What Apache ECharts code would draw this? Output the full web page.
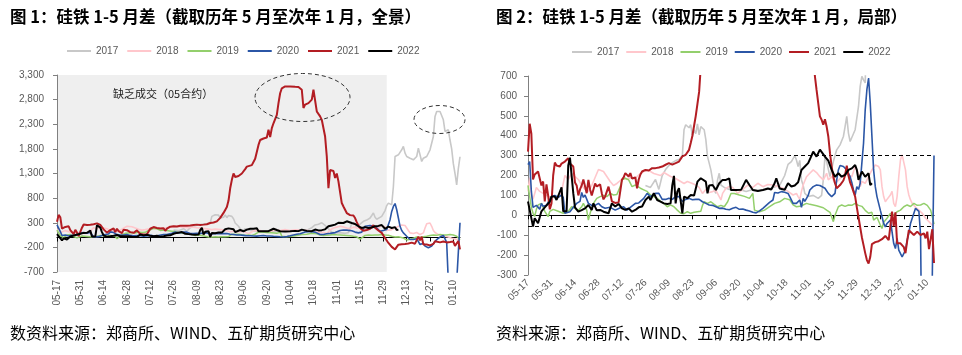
<!DOCTYPE html>
<html><head><meta charset="utf-8">
<script src="https://cdn.jsdelivr.net/npm/echarts@6/dist/echarts.min.js"></script>
<style>html,body{margin:0;padding:0;background:#fff}#c{width:962px;height:355px}</style>
</head><body><div id="c"></div>
<script>
// ---- categories: calendar days 05-17 .. 01-14 ----
const categories = [];
for (let t = Date.UTC(2021, 4, 17); t <= Date.UTC(2022, 0, 14); t += 86400000) {
  const d = new Date(t);
  categories.push(String(d.getUTCMonth() + 1).padStart(2, '0') + '-' + String(d.getUTCDate()).padStart(2, '0'));
}
const years = ['2017', '2018', '2019', '2020', '2021', '2022'];

// ---- series values [date, spread] ----
const s2017 = [["07-26",150],["07-29",140],["08-01",180],["08-03",130],["08-05",200],["08-07",230],["08-09",250],["08-11",265],["08-13",275],["08-15",280],["08-17",300],["08-18",430],["08-19",455],["08-20",463],["08-21",440],["08-22",455],["08-23",396],["08-24",430],["08-25",410],["08-26",460],["08-27",404],["08-28",446],["08-29",455],["08-30",430],["08-31",380],["09-01",295],["09-02",262],["09-03",228],["09-04",178],["09-05",127],["09-06",110],["09-07",178],["09-08",211],["09-09",152],["09-11",140],["09-14",130],["09-17",125],["09-20",130],["09-24",120],["09-28",130],["10-02",125],["10-06",130],["10-10",140],["10-14",150],["10-17",200],["10-19",256],["10-21",270],["10-23",300],["10-24",278],["10-25",245],["10-26",276],["10-27",178],["10-28",150],["10-29",110],["10-31",94],["11-03",100],["11-06",85],["11-08",100],["11-09",178],["11-10",295],["11-11",270],["11-12",278],["11-13",194],["11-15",270],["11-17",329],["11-19",354],["11-21",396],["11-22",446],["11-23",497],["11-24",413],["11-25",371],["11-26",379],["11-28",430],["11-30",547],["12-01",648],["12-02",698],["12-03",681],["12-04",665],["12-05",1036],["12-06",1645],["12-08",1679],["12-10",1781],["12-11",1849],["12-12",1713],["12-13",1645],["12-15",1611],["12-17",1578],["12-19",1645],["12-20",1815],["12-21",1849],["12-22",1544],["12-23",1611],["12-25",1645],["12-27",1781],["12-29",2052],["12-30",2459],["12-31",2560],["01-02",2560],["01-04",2391],["01-05",2154],["01-06",2120],["01-07",2188],["01-08",1980],["01-09",1800],["01-10",1500],["01-11",1300],["01-12",1070],["01-13",1400],["01-14",1640]];

const s2018 = [["05-17",120],["05-18",190],["05-19",100],["05-20",80],["05-22",140],["05-24",120],["05-26",110],["05-28",100],["05-30",90],["06-01",100],["06-03",85],["06-05",95],["06-06",120],["06-08",200],["06-10",180],["06-12",210],["06-14",195],["06-16",180],["06-18",150],["06-20",130],["06-22",120],["06-24",150],["06-26",190],["06-28",230],["06-29",240],["07-01",220],["07-03",195],["07-05",170],["07-07",150],["07-09",160],["07-11",175],["07-13",190],["07-15",180],["07-17",190],["07-19",185],["07-21",195],["07-23",210],["07-25",220],["07-27",228],["07-29",220],["07-31",210],["08-02",205],["08-04",200],["08-06",215],["08-08",205],["08-10",195],["08-12",190],["08-14",180],["08-16",170],["08-18",160],["08-20",170],["08-21",178],["08-23",160],["08-25",152],["08-27",140],["08-29",110],["08-31",130],["09-02",115],["09-04",119],["09-06",125],["09-09",77],["09-10",110],["09-12",136],["09-14",145],["09-16",140],["09-19",110],["09-22",130],["09-25",152],["09-28",140],["10-01",161],["10-04",144],["10-07",155],["10-10",152],["10-13",145],["10-16",136],["10-19",120],["10-22",102],["10-24",110],["10-25",94],["10-26",80],["10-27",120],["10-28",152],["10-30",194],["11-01",211],["11-03",228],["11-05",215],["11-07",194],["11-09",178],["11-11",211],["11-12",178],["11-14",194],["11-16",161],["11-18",175],["11-20",194],["11-22",211],["11-24",203],["11-26",194],["11-28",245],["11-30",211],["12-01",144],["12-02",170],["12-04",161],["12-06",194],["12-08",228],["12-10",253],["12-12",245],["12-13",228],["12-14",144],["12-15",94],["12-16",68],["12-17",80],["12-19",102],["12-20",120],["12-21",60],["12-22",43],["12-23",94],["12-24",194],["12-25",278],["12-26",304],["12-27",295],["12-28",228],["12-29",144],["12-30",102],["12-31",77],["01-01",60],["01-03",40],["01-05",26],["01-07",10],["01-09",-15],["01-11",-32],["01-13",-50],["01-14",-55]];

const s2019 = [["05-17",150],["05-19",40],["05-20",10],["05-21",-5],["05-22",30],["05-23",52],["05-25",60],["05-27",20],["05-29",-7],["05-30",20],["06-01",30],["06-04",20],["06-07",10],["06-10",20],["06-12",43],["06-14",35],["06-16",25],["06-18",43],["06-19",60],["06-21",26],["06-22",-24],["06-23",10],["06-25",60],["06-27",85],["06-29",94],["07-01",100],["07-03",94],["07-05",110],["07-07",102],["07-09",105],["07-11",144],["07-12",178],["07-14",186],["07-16",178],["07-18",144],["07-20",152],["07-23",136],["07-25",128],["07-27",120],["07-29",102],["07-31",94],["08-02",85],["08-04",70],["08-06",60],["08-08",43],["08-10",52],["08-12",43],["08-14",26],["08-16",10],["08-18",8],["08-20",18],["08-22",10],["08-24",15],["08-26",18],["08-28",20],["08-29",50],["08-30",68],["09-01",60],["09-03",68],["09-05",55],["09-07",43],["09-09",50],["09-11",43],["09-13",68],["09-15",110],["09-17",110],["09-20",102],["09-23",95],["09-26",85],["09-28",110],["09-29",26],["10-02",18],["10-05",26],["10-08",43],["10-11",60],["10-14",68],["10-17",85],["10-20",78],["10-22",52],["10-24",43],["10-26",45],["10-28",52],["10-30",60],["11-01",55],["11-03",52],["11-05",48],["11-07",43],["11-09",38],["11-11",26],["11-13",15],["11-15",-32],["11-16",0],["11-18",43],["11-20",52],["11-22",45],["11-24",52],["11-26",50],["11-28",60],["11-30",50],["12-02",45],["12-04",25],["12-06",10],["12-08",15],["12-09",-24],["12-11",-10],["12-13",-49],["12-14",-66],["12-15",-35],["12-17",-15],["12-19",10],["12-21",0],["12-23",18],["12-25",26],["12-27",43],["12-29",52],["12-31",44],["01-02",60],["01-04",50],["01-06",52],["01-08",60],["01-10",50],["01-12",26],["01-13",-7],["01-14",-45]];

const s2020 = [["05-17",255],["05-18",270],["05-19",120],["05-20",40],["05-22",50],["05-24",30],["05-25",60],["05-26",45],["05-28",50],["05-30",80],["05-31",94],["06-02",100],["06-04",90],["06-05",85],["06-06",102],["06-07",90],["06-08",10],["06-09",20],["06-11",18],["06-13",40],["06-15",60],["06-17",70],["06-18",115],["06-19",90],["06-20",102],["06-22",60],["06-23",52],["06-25",45],["06-28",60],["06-30",43],["07-02",35],["07-05",40],["07-08",26],["07-11",38],["07-13",43],["07-15",26],["07-17",40],["07-20",60],["07-22",62],["07-23",68],["07-25",85],["07-27",110],["07-29",94],["07-30",85],["08-01",110],["08-03",110],["08-05",80],["08-07",80],["08-09",86],["08-11",80],["08-13",94],["08-15",94],["08-17",70],["08-19",80],["08-21",85],["08-23",78],["08-25",80],["08-27",80],["08-29",68],["08-31",60],["09-02",52],["09-04",50],["09-06",43],["09-08",35],["09-10",36],["09-12",30],["09-14",28],["09-16",35],["09-18",40],["09-20",30],["09-22",32],["09-24",26],["09-26",22],["09-28",15],["09-29",10],["09-30",12],["10-02",22],["10-04",35],["10-06",50],["10-08",65],["10-10",77],["10-11",115],["10-13",112],["10-15",119],["10-17",116],["10-19",110],["10-20",94],["10-22",60],["10-23",50],["10-24",60],["10-26",77],["10-27",40],["10-28",85],["10-29",70],["10-31",100],["11-01",127],["11-03",144],["11-05",152],["11-07",150],["11-08",144],["11-10",136],["11-12",110],["11-14",94],["11-15",85],["11-16",110],["11-17",178],["11-18",228],["11-19",250],["11-21",245],["11-23",228],["11-24",211],["11-25",194],["11-26",165],["11-27",127],["11-28",102],["11-29",144],["11-30",130],["12-01",161],["12-02",262],["12-03",362],["12-04",530],["12-05",631],["12-06",690],["12-07",564],["12-08",396],["12-09",228],["12-10",144],["12-11",94],["12-12",60],["12-13",26],["12-14",-7],["12-15",-41],["12-16",-58],["12-17",-41],["12-19",-24],["12-20",-15],["12-21",-142],["12-22",-167],["12-23",-116],["12-24",-175],["12-26",-209],["12-27",-200],["12-28",-175],["12-29",-125],["12-30",-91],["12-31",-41],["01-02",10],["01-03",35],["01-04",43],["01-05",20],["01-06",-100],["01-07",-900],["01-08",-1000],["01-10",-950],["01-12",-900],["01-13",-900],["01-14",300]];

const s2021 = [["05-17",320],["05-18",460],["05-19",410],["05-20",180],["05-21",205],["05-22",215],["05-23",220],["05-24",228],["05-25",150],["05-26",170],["05-27",70],["05-28",155],["05-29",100],["05-30",30],["05-31",60],["06-01",200],["06-02",265],["06-03",250],["06-04",255],["06-05",245],["06-06",260],["06-07",250],["06-08",270],["06-09",275],["06-10",287],["06-11",260],["06-12",255],["06-13",245],["06-14",165],["06-15",150],["06-16",100],["06-17",130],["06-18",150],["06-19",180],["06-20",186],["06-21",111],["06-22",178],["06-23",130],["06-24",100],["06-25",90],["06-26",160],["06-27",145],["06-28",150],["06-29",155],["06-30",110],["07-01",80],["07-02",95],["07-03",85],["07-04",144],["07-05",110],["07-06",70],["07-07",68],["07-08",62],["07-09",60],["07-10",65],["07-11",70],["07-12",178],["07-13",191],["07-14",212],["07-15",220],["07-16",195],["07-17",212],["07-18",185],["07-19",195],["07-20",190],["07-21",136],["07-22",180],["07-23",205],["07-24",220],["07-26",228],["07-28",225],["07-30",237],["08-01",237],["08-03",240],["08-05",245],["08-07",254],["08-09",262],["08-11",255],["08-13",262],["08-15",270],["08-16",279],["08-17",296],["08-19",304],["08-21",329],["08-22",363],["08-23",400],["08-24",450],["08-25",500],["08-26",560],["08-27",620],["08-28",750],["08-29",1000],["08-30",1171],["08-31",1300],["09-01",1230],["09-03",1250],["09-05",1300],["09-07",1390],["09-08",1440],["09-09",1410],["09-11",1470],["09-13",1600],["09-15",1880],["09-16",1980],["09-18",2010],["09-20",2030],["09-21",2190],["09-22",2040],["09-23",2220],["09-24",2320],["09-26",2490],["09-27",2730],["09-28",2930],["09-29",3030],["10-01",3068],["10-04",3068],["10-07",3060],["10-09",3055],["10-11",3000],["10-12",2630],["10-13",2700],["10-15",2730],["10-17",2800],["10-18",3000],["10-19",3030],["10-20",2560],["10-21",2600],["10-22",2460],["10-23",2390],["10-25",2050],["10-26",1650],["10-27",1000],["10-28",1370],["10-29",1410],["10-30",1350],["10-31",1210],["11-01",1300],["11-02",1140],["11-04",700],["11-05",630],["11-06",564],["11-07",497],["11-08",480],["11-09",455],["11-10",483],["11-11",446],["11-12",396],["11-13",312],["11-14",245],["11-15",194],["11-16",161],["11-17",136],["11-18",130],["11-19",152],["11-21",175],["11-22",200],["11-23",250],["11-24",200],["11-25",165],["11-26",144],["11-27",150],["11-28",94],["11-29",40],["11-30",-10],["12-01",-60],["12-02",-110],["12-03",-150],["12-04",-190],["12-05",-225],["12-06",-242],["12-07",-210],["12-08",-145],["12-10",-135],["12-12",-130],["12-14",-120],["12-16",-104],["12-18",-125],["12-19",-120],["12-20",18],["12-21",-55],["12-22",15],["12-23",-141],["12-25",-141],["12-27",-160],["12-28",-190],["12-29",-130],["12-30",-75],["12-31",-82],["01-02",-99],["01-04",-82],["01-06",-99],["01-08",-91],["01-09",-116],["01-10",-82],["01-11",-170],["01-12",-175],["01-13",-70],["01-14",-240]];

const s2022 = [["05-17",69],["05-18",27],["05-19",18],["05-20",-57],["05-21",-15],["05-22",-24],["05-23",-40],["05-24",-49],["05-25",20],["05-26",26],["05-27",40],["05-28",44],["05-30",68],["05-31",94],["06-02",94],["06-03",77],["06-04",97],["06-06",140],["06-07",20],["06-09",20],["06-10",250],["06-11",290],["06-12",200],["06-13",110],["06-14",40],["06-16",18],["06-18",26],["06-20",35],["06-22",52],["06-24",27],["06-25",60],["06-27",25],["06-29",27],["07-01",18],["07-04",10],["07-06",60],["07-08",44],["07-10",57],["07-12",35],["07-14",27],["07-16",35],["07-18",18],["07-20",27],["07-22",40],["07-24",44],["07-26",77],["07-28",94],["07-29",77],["07-31",111],["08-02",77],["08-04",69],["08-06",60],["08-08",57],["08-10",60],["08-11",150],["08-12",198],["08-13",60],["08-14",119],["08-15",136],["08-16",128],["08-17",10],["08-18",94],["08-20",86],["08-22",102],["08-24",100],["08-26",169],["08-28",186],["08-29",194],["08-31",169],["09-01",110],["09-02",150],["09-04",152],["09-06",127],["09-08",161],["09-10",178],["09-12",178],["09-14",186],["09-15",127],["09-18",127],["09-21",128],["09-24",178],["09-26",152],["09-28",127],["10-01",122],["10-04",127],["10-07",135],["10-09",130],["10-11",161],["10-12",186],["10-14",135],["10-17",128],["10-19",161],["10-21",145],["10-23",150],["10-25",166],["10-27",228],["10-29",245],["10-31",262],["11-02",300],["11-03",320],["11-05",295],["11-07",330],["11-08",337],["11-10",295],["11-12",275],["11-14",228],["11-16",194],["11-18",211],["11-20",194],["11-22",203],["11-24",228],["11-26",236],["11-28",253],["11-29",228],["11-30",178],["12-02",220],["12-04",194],["12-06",211],["12-07",152],["12-08",161]];

const seriesData = [s2017, s2018, s2019, s2020, s2021, s2022];
const colors = ['#c8c8c8', '#ffc7cc', '#93cf6c', '#2b56a6', '#b31d23', '#000000'];
const widths = [1.6, 1.6, 1.5, 1.6, 2, 2];

// annotations
const shadeRange = ['05-17', '12-01'];
const bandLines = [300, -55];

const fmt = v => { const s = String(Math.abs(v)).replace(/\B(?=(\d{3})+(?!\d))/g, ','); return (v < 0 ? '-' : '') + s; };
const axisFont = { fontFamily: 'Liberation Sans', fontSize: 10, color: '#595959' };
const cjk = 'Noto Sans CJK SC';

function xAxes(gridIndex, rotate, margin) {
  return [
    { type: 'category', gridIndex, data: categories, boundaryGap: false, position: 'bottom',
      axisLine: { show: false, onZero: false }, axisTick: { show: false },
      axisLabel: Object.assign({ interval: 13, rotate, margin }, axisFont), splitLine: { show: false } },
    { type: 'category', gridIndex, data: categories, boundaryGap: false, position: 'bottom', z: 2,
      axisLine: { show: true, onZero: true, lineStyle: { color: '#000', width: 1.2 } },
      axisTick: { show: true, interval: 13, length: 4, lineStyle: { color: '#000' } },
      axisLabel: { show: false }, splitLine: { show: false } }
  ];
}

const series = [];
series.push({ name: 'shade', type: 'line', xAxisIndex: 0, yAxisIndex: 0, data: [], z: 1, silent: true,
  markArea: { silent: true, itemStyle: { color: '#efefef' },
    data: [[{ xAxis: shadeRange[0] }, { xAxis: shadeRange[1] }]] } });
series.push({ name: 'band', type: 'line', xAxisIndex: 2, yAxisIndex: 1, data: [], z: 10, silent: true,
  markLine: { silent: true, symbol: ['none', 'none'], label: { show: false },
    lineStyle: { type: [4, 3], color: '#000', width: 1.1 },
    data: bandLines.map(v => ({ yAxis: v })) } });
[0, 1].forEach(g => {
  years.forEach((y, i) => {
    series.push({ name: y, type: 'line', xAxisIndex: g * 2, yAxisIndex: g, data: seriesData[i],
      symbol: 'none', showSymbol: false, color: colors[i], z: 3 + i, clip: true,
      lineStyle: { color: colors[i], width: widths[i] } });
  });
});

const legendBase = { data: years, icon: 'rect', itemHeight: 2, selectedMode: false,
  textStyle: { fontFamily: 'Liberation Sans', fontSize: 10, color: '#595959' }, padding: 0 };

const option = {
  animation: false,
  backgroundColor: '#fff',
  title: [
    { text: '图 1：硅铁 1-5 月差（截取历年 5 月至次年 1 月，全景）', left: 10, top: 8, padding: 0,
      textStyle: { fontFamily: cjk, fontSize: 16.5, fontWeight: 'bold', color: '#000' } },
    { text: '图 2：硅铁 1-5 月差（截取历年 5 月至次年 1 月，局部）', left: 496, top: 8, padding: 0,
      textStyle: { fontFamily: cjk, fontSize: 16.5, fontWeight: 'bold', color: '#000' } }
  ],
  legend: [
    Object.assign({ left: 67, top: 46, itemWidth: 24, itemGap: 9 }, legendBase),
    Object.assign({ left: 572, top: 47, itemWidth: 20, itemGap: 7 }, legendBase)
  ],
  grid: [
    { left: 57, top: 75, width: 403, height: 197, outerBoundsMode: 'none' },
    { left: 528, top: 76, width: 406, height: 199, outerBoundsMode: 'none' }
  ],
  xAxis: [].concat(xAxes(0, 90, 8), xAxes(1, 45, 6)),
  yAxis: [
    { type: 'value', gridIndex: 0, min: -700, max: 3300, interval: 500, z: 2,
      axisLine: { show: true, lineStyle: { color: '#808080' } }, axisTick: { show: true, length: 4, lineStyle: { color: '#808080' } },
      splitLine: { show: false }, axisLabel: Object.assign({ formatter: fmt, margin: 13 }, axisFont) },
    { type: 'value', gridIndex: 1, min: -300, max: 700, interval: 100, z: 2,
      axisLine: { show: true, lineStyle: { color: '#808080' } }, axisTick: { show: true, length: 4, lineStyle: { color: '#808080' } },
      splitLine: { show: false }, axisLabel: Object.assign({ formatter: fmt, margin: 11 }, axisFont) }
  ],
  graphic: [
    { type: 'text', left: 113, top: 88, z: 20, style: { text: '缺乏成交（05合约）', fontFamily: cjk, fontSize: 11, fill: '#222' } },
    { type: 'ellipse', z: 20, shape: { cx: 302.5, cy: 97.5, rx: 47.5, ry: 24 }, style: { fill: 'none', stroke: '#333', lineWidth: 1, lineDash: [4, 3] } },
    { type: 'ellipse', z: 20, shape: { cx: 439.5, cy: 119.5, rx: 25.5, ry: 14 }, style: { fill: 'none', stroke: '#333', lineWidth: 1, lineDash: [4, 3] } },
    { type: 'text', left: 10, top: 325, style: { text: '数资料来源：郑商所、WIND、五矿期货研究中心', fontFamily: cjk, fontSize: 16, fill: '#000' } },
    { type: 'text', left: 496, top: 325, style: { text: '资料来源：郑商所、WIND、五矿期货研究中心', fontFamily: cjk, fontSize: 16, fill: '#000' } }
  ],
  series
};
const chart = echarts.init(document.getElementById('c'), null, { renderer: 'canvas' });
chart.setOption(option);
</script>
</body></html>
